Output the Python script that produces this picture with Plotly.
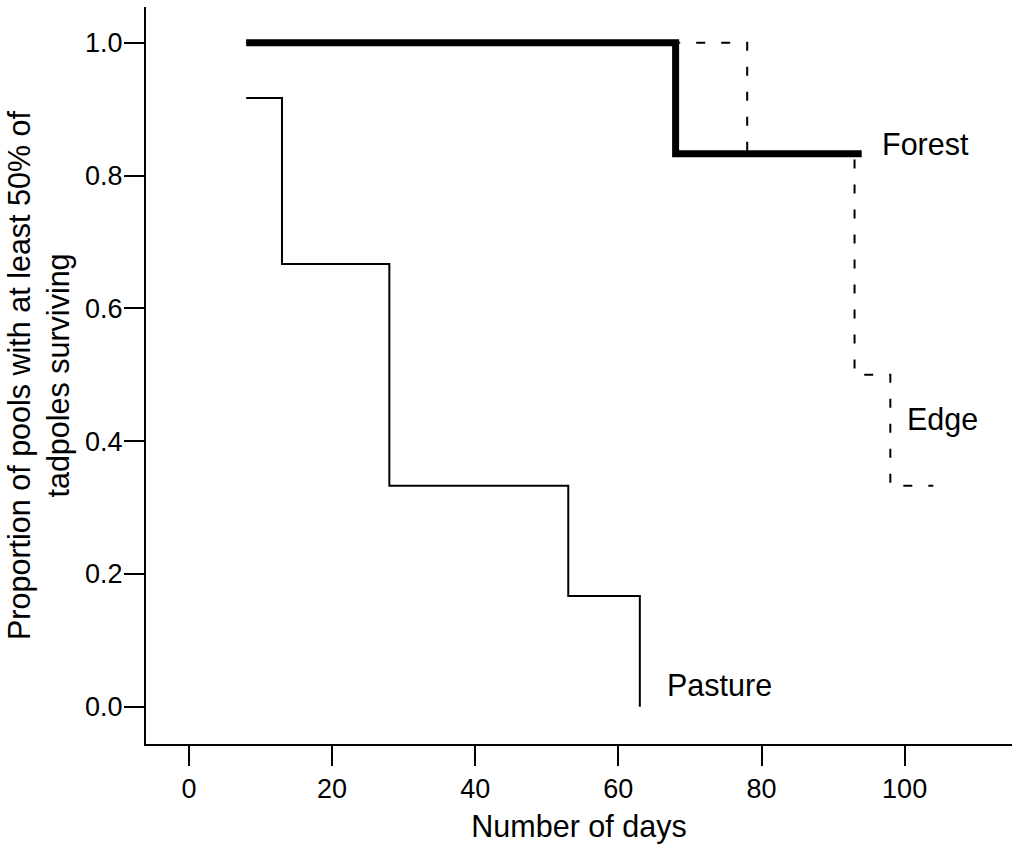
import plotly.graph_objects as go

forest_x = [8, 68, 68, 94]
forest_y = [1.0, 1.0, 0.833, 0.833]

edge_x = [8, 78, 78, 93, 93, 98, 98, 104]
edge_y = [1.0, 1.0, 0.833, 0.833, 0.5, 0.5, 0.333, 0.333]

pasture_x = [8, 13, 13, 28, 28, 53, 53, 63, 63]
pasture_y = [0.917, 0.917, 0.667, 0.667, 0.333, 0.333, 0.167, 0.167, 0.0]

labels = ["Forest", "Edge", "Pasture"]
label_x = [96.5, 100.0, 66.5]
label_y = [0.848, 0.432, 0.033]

x_ticks = [0, 20, 40, 60, 80, 100]
y_ticks = [0.0, 0.2, 0.4, 0.6, 0.8, 1.0]

FONT = "Liberation Sans, Arial, sans-serif"
TICKFONT = dict(family=FONT, size=27, color="black")

fig = go.Figure()
fig.add_trace(go.Scatter(x=edge_x, y=edge_y, mode="lines",
                         line=dict(color="black", width=2, dash="9px,16px"),
                         showlegend=False))
fig.add_trace(go.Scatter(x=pasture_x, y=pasture_y, mode="lines",
                         line=dict(color="black", width=2),
                         showlegend=False))
fig.add_trace(go.Scatter(x=forest_x, y=forest_y, mode="lines",
                         line=dict(color="black", width=7),
                         showlegend=False))
for t, x, y in zip(labels, label_x, label_y):
    fig.add_annotation(x=x, y=y, text=t, showarrow=False, xanchor="left",
                       font=dict(size=30.5, color="black", family=FONT))

fig.update_layout(
    width=1014, height=850,
    margin=dict(l=146, r=2, t=7, b=106),
    plot_bgcolor="white", paper_bgcolor="white",
    font=dict(family=FONT, size=27, color="black"),
    xaxis=dict(range=[-6, 115], tickvals=x_ticks, ticks="outside", ticklen=20, tickwidth=2,
               tickcolor="black", showline=True, linewidth=2, linecolor="black",
               showgrid=False, zeroline=False, tickfont=TICKFONT,
               title=dict(text="Number of days", font=dict(size=30.5), standoff=12)),
    yaxis=dict(range=[-0.056, 1.054], tickvals=y_ticks, tickformat=".1f", ticks="outside",
               ticklen=20, tickwidth=2, tickcolor="black", showline=True, linewidth=2,
               linecolor="black", showgrid=False, zeroline=False, ticklabelstandoff=-4,
               tickfont=TICKFONT,
               title=dict(text="Proportion of pools with at least 50% of<br>tadpoles surviving",
                          font=dict(size=30.5), standoff=6)),
)
fig.write_html("out.html")
